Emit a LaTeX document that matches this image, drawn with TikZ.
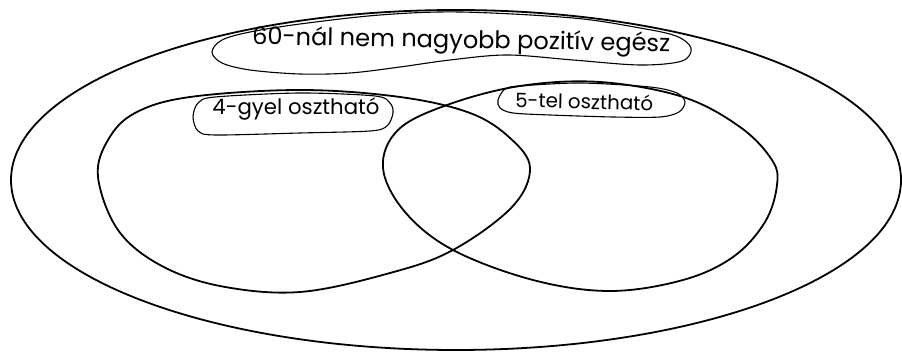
\documentclass[tikz,border=0pt]{standalone}
\usepackage{fontspec}
\setmainfont{Poppins}
\usepackage{graphicx}
\begin{document}
\begin{tikzpicture}[x=1pt,y=-1pt,line join=round,line cap=round,
  outline/.style={line width=1.8pt},
  tagline/.style={line width=1.1pt},
  lbl/.style={inner sep=0pt,anchor=base}]
\useasboundingbox (0,0) rectangle (902,352);
% universe
\draw[outline] (456,180) ellipse [x radius=445pt, y radius=170pt];
% divisible by 4
\draw[outline] plot[smooth cycle,tension=0.6] coordinates {
 (98,177) (108,140) (135,113) (190,97) (300,90) (400,97) (470,113) (510,138)
 (530,168) (512,207) (453,250) (390,273) (300,292) (220,286) (160,265) (118,230)};
% divisible by 5
\draw[outline] plot[smooth cycle,tension=0.6] coordinates {
 (383,168) (398,130) (447,105) (520,86) (600,82) (683,97) (740,127) (772,160)
 (777,185) (765,222) (733,257) (683,280) (610,291) (533,280) (453,250) (405,212)};
% label blobs
\draw[tagline] plot[smooth cycle,tension=0.55] coordinates {
 (212,52) (222,40) (250,32) (300,24) (380,15) (460,12) (573,18) (640,28)
 (676,36) (691,48) (682,61) (640,65) (573,60) (507,55) (450,60) (400,67)
 (350,73) (300,74) (250,70) (222,63)};
\draw[tagline] plot[smooth cycle,tension=0.5] coordinates {
 (193,117) (198,103) (215,97) (300,93) (375,96) (390,103) (393,113) (387,126)
 (370,131) (300,133) (215,135) (198,131)};
\draw[tagline] plot[smooth cycle,tension=0.5] coordinates {
 (498,100) (505,89) (520,86) (580,83) (650,87) (677,93) (685,102) (679,112)
 (660,117) (613,117) (550,115) (513,113) (500,108)};
% texts
\node[lbl,rotate=-1] (univ) at (461,48) {\resizebox{418pt}{!}{60-nál nem nagyobb pozitív egész}};
\node[lbl] (four) at (296,115) {\resizebox{167pt}{!}{4-gyel osztható}};
\node[lbl,rotate=-1.5] (five) at (584,109) {\resizebox{138pt}{!}{5-tel osztható}};
\end{tikzpicture}
\end{document}
